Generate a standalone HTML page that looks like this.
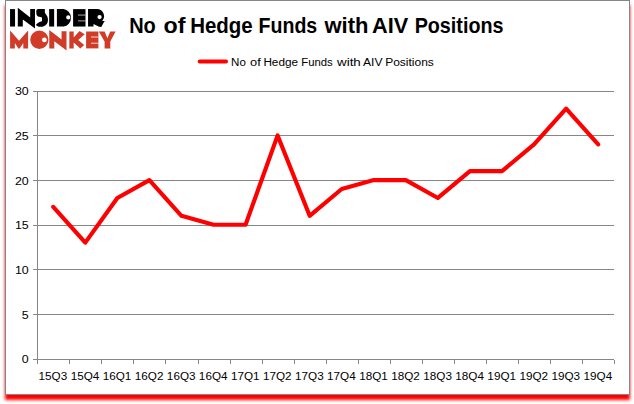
<!DOCTYPE html>
<html><head><meta charset="utf-8"><title>No of Hedge Funds with AIV Positions</title>
<style>
html,body{margin:0;padding:0;background:#fff;}
body{width:634px;height:404px;position:relative;overflow:hidden;font-family:"Liberation Sans",sans-serif;}
#frame{position:absolute;left:5px;top:0;width:623px;height:393px;border:1px solid #868686;background:#fff;box-shadow:0 5px 3px 0 #ff0000;}
svg{position:absolute;left:0;top:0;}
text{font-family:"Liberation Sans",sans-serif;fill:#000;}
</style></head><body>
<div id="frame"></div>
<svg width="634" height="404" viewBox="0 0 634 404">

<g stroke="#868686" stroke-width="1" fill="none" shape-rendering="crispEdges">
<line x1="33" y1="359.5" x2="614.0" y2="359.5"/>
<line x1="33" y1="314.5" x2="614.0" y2="314.5"/>
<line x1="33" y1="269.5" x2="614.0" y2="269.5"/>
<line x1="33" y1="225.5" x2="614.0" y2="225.5"/>
<line x1="33" y1="180.5" x2="614.0" y2="180.5"/>
<line x1="33" y1="135.5" x2="614.0" y2="135.5"/>
<line x1="33" y1="91.5" x2="614.0" y2="91.5"/>
<line x1="37.5" y1="91.0" x2="37.5" y2="360.0"/>
<line x1="37.5" y1="359.5" x2="37.5" y2="364"/>
<line x1="69.5" y1="359.5" x2="69.5" y2="364"/>
<line x1="101.5" y1="359.5" x2="101.5" y2="364"/>
<line x1="133.5" y1="359.5" x2="133.5" y2="364"/>
<line x1="165.5" y1="359.5" x2="165.5" y2="364"/>
<line x1="198.5" y1="359.5" x2="198.5" y2="364"/>
<line x1="230.5" y1="359.5" x2="230.5" y2="364"/>
<line x1="262.5" y1="359.5" x2="262.5" y2="364"/>
<line x1="294.5" y1="359.5" x2="294.5" y2="364"/>
<line x1="326.5" y1="359.5" x2="326.5" y2="364"/>
<line x1="358.5" y1="359.5" x2="358.5" y2="364"/>
<line x1="390.5" y1="359.5" x2="390.5" y2="364"/>
<line x1="422.5" y1="359.5" x2="422.5" y2="364"/>
<line x1="454.5" y1="359.5" x2="454.5" y2="364"/>
<line x1="486.5" y1="359.5" x2="486.5" y2="364"/>
<line x1="518.5" y1="359.5" x2="518.5" y2="364"/>
<line x1="550.5" y1="359.5" x2="550.5" y2="364"/>
<line x1="582.5" y1="359.5" x2="582.5" y2="364"/>
<line x1="614.5" y1="359.5" x2="614.5" y2="364"/>
</g>
<g font-size="11.5" text-anchor="end">
<text transform="translate(28.7,363) scale(1.08,1)">0</text>
<text transform="translate(28.7,319) scale(1.08,1)">5</text>
<text transform="translate(28.7,274) scale(1.08,1)">10</text>
<text transform="translate(28.7,229) scale(1.08,1)">15</text>
<text transform="translate(28.7,185) scale(1.08,1)">20</text>
<text transform="translate(28.7,140) scale(1.08,1)">25</text>
<text transform="translate(28.7,95) scale(1.08,1)">30</text>
</g>
<g font-size="11.5" text-anchor="middle">
<text transform="translate(52.9,380) scale(1.02,1)">15Q3</text>
<text transform="translate(85.0,380) scale(1.02,1)">15Q4</text>
<text transform="translate(117.0,380) scale(1.02,1)">16Q1</text>
<text transform="translate(149.1,380) scale(1.02,1)">16Q2</text>
<text transform="translate(181.2,380) scale(1.02,1)">16Q3</text>
<text transform="translate(213.2,380) scale(1.02,1)">16Q4</text>
<text transform="translate(245.3,380) scale(1.02,1)">17Q1</text>
<text transform="translate(277.3,380) scale(1.02,1)">17Q2</text>
<text transform="translate(309.4,380) scale(1.02,1)">17Q3</text>
<text transform="translate(341.4,380) scale(1.02,1)">17Q4</text>
<text transform="translate(373.5,380) scale(1.02,1)">18Q1</text>
<text transform="translate(405.5,380) scale(1.02,1)">18Q2</text>
<text transform="translate(437.6,380) scale(1.02,1)">18Q3</text>
<text transform="translate(469.6,380) scale(1.02,1)">18Q4</text>
<text transform="translate(501.7,380) scale(1.02,1)">19Q1</text>
<text transform="translate(533.8,380) scale(1.02,1)">19Q2</text>
<text transform="translate(565.8,380) scale(1.02,1)">19Q3</text>
<text transform="translate(597.9,380) scale(1.02,1)">19Q4</text>
</g>
<polyline points="53.23,206.88 85.28,242.62 117.34,197.95 149.39,180.08 181.45,215.82 213.51,224.75 245.56,224.75 277.62,135.42 309.67,215.82 341.73,189.02 373.78,180.08 405.84,180.08 437.89,197.95 469.95,171.15 502.01,171.15 534.06,144.35 566.12,108.62 598.17,144.35" fill="none" stroke="#ff0000" stroke-width="4.15" stroke-linecap="round" stroke-linejoin="round"/>
<line x1="199.7" y1="61.5" x2="226" y2="61.5" stroke="#ff0000" stroke-width="4" stroke-linecap="round"/>
<text transform="translate(231.08,66.0) scale(1.0063,1)" font-size="11.5">No</text>
<text transform="translate(250.05,66.0) scale(1.1174,1)" font-size="11.5">of</text>
<text transform="translate(263.38,66.0) scale(1.0231,1)" font-size="11.5">Hedge</text>
<text transform="translate(301.23,66.0) scale(0.9844,1)" font-size="11.5">Funds</text>
<text transform="translate(337.04,66.0) scale(1.1619,1)" font-size="11.5">with</text>
<text transform="translate(363.06,66.0) scale(1.0516,1)" font-size="11.5">AIV</text>
<text transform="translate(385.16,66.0) scale(1.0450,1)" font-size="11.5">Positions</text>
<text transform="translate(129.13,33.0) scale(0.9312,1)" font-size="21.5" font-weight="bold">No</text>
<text transform="translate(163.51,33.0) scale(1.0809,1)" font-size="21.5" font-weight="bold">of</text>
<text transform="translate(190.20,33.0) scale(0.9524,1)" font-size="21.5" font-weight="bold">Hedge</text>
<text transform="translate(258.56,33.0) scale(0.9109,1)" font-size="21.5" font-weight="bold">Funds</text>
<text transform="translate(324.41,33.0) scale(1.0235,1)" font-size="21.5" font-weight="bold">with</text>
<text transform="translate(372.08,33.0) scale(1.0097,1)" font-size="21.5" font-weight="bold">AIV</text>
<text transform="translate(414.64,33.0) scale(0.9190,1)" font-size="21.5" font-weight="bold">Positions</text>
<g id="logo-insider" fill="#000">
<rect x="10.05" y="9.1" width="5" height="17.45"/>
<path d="M17.8 7.8 L30.2 17.6 L30.2 9.1 L35 9.1 L35 28.5 L22.8 19.4 L22.8 26.55 L17.8 26.55 Z"/>
<path d="M38.4 9.1 L44.85 9.1 L44.85 12.8 L47.2 16.2 C48.3 18.5 48.3 22 46.8 24 C45.3 26.3 42 26.9 40 26.8 C38.3 26.6 36.9 26.1 36.2 25.2 L36.1 24.5 C37.5 23 39.5 21.6 42 21.2 L42 17.6 C41.5 16.9 39.2 16.8 38 16.4 C36.8 15.9 36.3 14.5 36.3 12.5 L36.3 11.3 C36.3 10 37.1 9.1 38.4 9.1 Z"/>
<rect x="49.15" y="9.1" width="5" height="17.45"/>
<path fill-rule="evenodd" d="M56.9 9.1 L63.5 9.1 A8.6 8.8 0 0 1 63.5 26.55 L56.9 26.55 Z M66.15 17.4 a2.1 2.1 0 1 0 4.2 0 a2.1 2.1 0 1 0 -4.2 0 Z"/>
<path d="M73.1 9.1 H85.5 V26.55 H73.1 Z"/>
<rect x="78" y="14.6" width="7.5" height="0.9" fill="#fff" opacity="0.75"/>
<rect x="78" y="20.45" width="7.5" height="0.9" fill="#fff" opacity="0.75"/>
<path fill-rule="evenodd" d="M88.05 9 L96.9 9 A7 7.1 0 0 1 102.5 20.5 L102.1 21.1 L104.8 21.05 L103.9 22.3 L101.3 26.9 L99.1 26.7 L93.5 23.9 L93.5 26.55 L88.05 26.55 Z M97.4 17.05 a2.15 2.15 0 1 0 4.3 0 a2.15 2.15 0 1 0 -4.3 0 Z"/>
</g>
<g id="logo-monkey" fill="#d03c27">
<path d="M10.1 30.4 L19.05 40.8 L28.1 30.4 L28.1 48.5 L23.3 48.5 L23.3 43.1 L19.7 48.5 L18.4 48.5 L14.85 43.1 L14.85 48.5 L10.1 48.5 Z"/>
<path fill-rule="evenodd" d="M30.2 39.8 a9.15 9.2 0 1 0 18.3 0 a9.15 9.2 0 1 0 -18.3 0 Z M42 39.95 a2.4 2.4 0 1 0 4.8 0 a2.4 2.4 0 1 0 -4.8 0 Z"/>
<path d="M49.25 30 L61.56 39.5 L61.56 31.3 L66.5 31.3 L66.5 50.4 L54.3 41.25 L54.3 48.4 L49.25 48.4 Z"/>
<path d="M69.35 31.5 H73.7 V37.4 L79.5 31 L84.7 34.2 L78.2 39.9 L84.2 45.1 L80.3 48.5 L73.7 42.5 V48.4 H69.35 Z"/>
<path d="M86.1 31.5 H98.4 V48.4 H86.1 Z"/>
<rect x="91" y="36.5" width="7.4" height="1" fill="#fff" opacity="0.78"/>
<rect x="91" y="42.7" width="7.4" height="1" fill="#fff" opacity="0.78"/>
<path d="M98.8 31.5 H104.6 L107.4 38.3 L110.2 31.5 H115.6 L110.3 41.4 V48.4 H104.6 V41.4 Z"/>
</g>

</svg></body></html>
